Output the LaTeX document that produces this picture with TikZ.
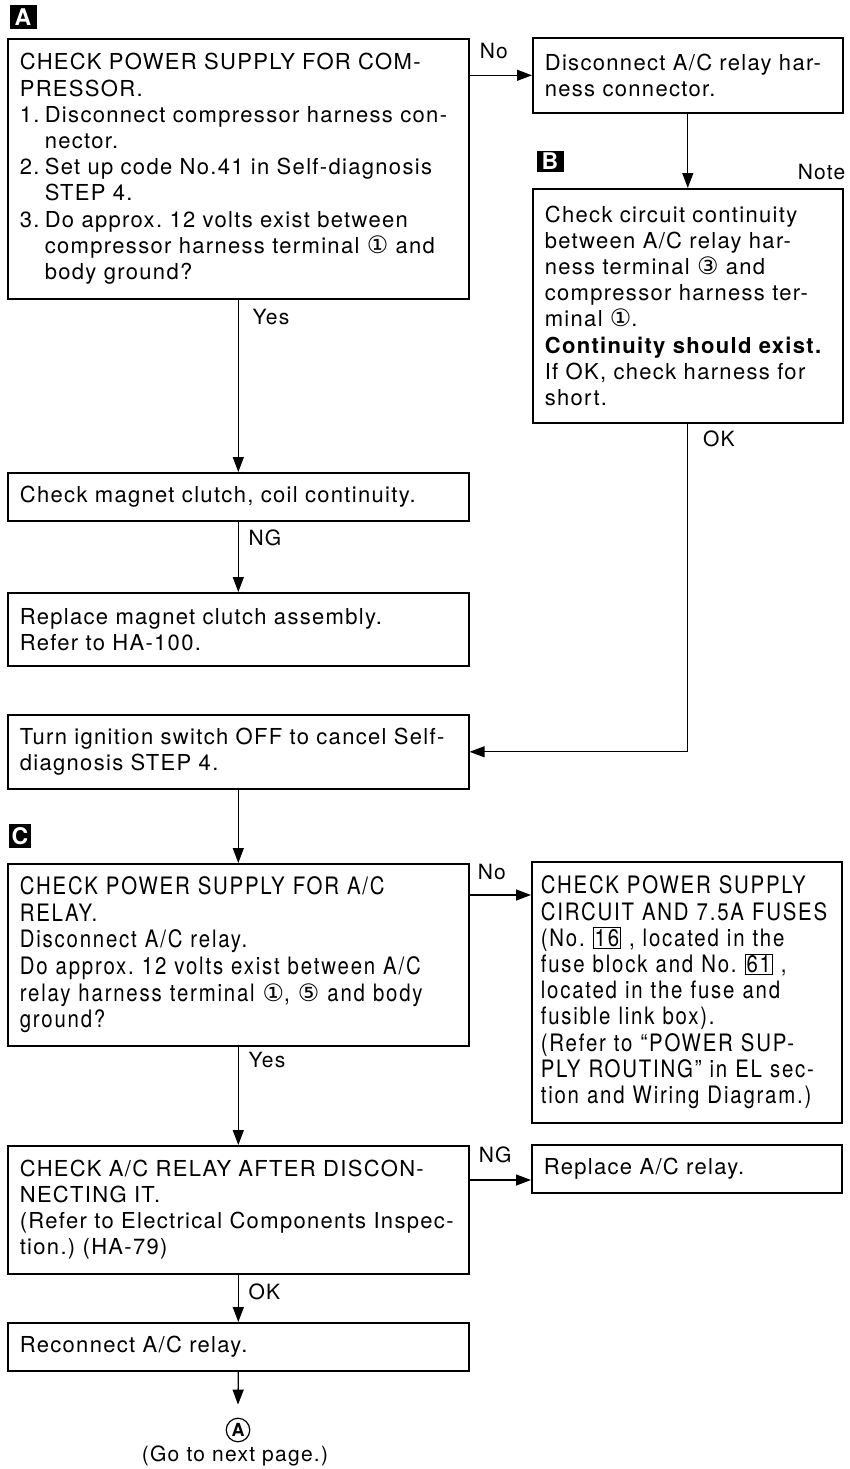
\documentclass[tikz,border=0pt]{standalone}
\usepackage{fontspec}
\usepackage{tikz}
\usetikzlibrary{calc,arrows.meta}
\setmainfont{TeX Gyre Heros}[LetterSpace=6]
\newfontfamily\narrowfont{TeX Gyre Heros}[FakeStretch=0.85,LetterSpace=7.5]
\newfontfamily\symfont{DejaVu Sans}
\newcommand{\mainsz}{\frenchspacing\fontsize{22}{26.2}\selectfont}
\newcommand{\circnum}[1]{{\symfont\fontsize{24}{24}\selectfont #1}}
\newcommand{\fusebox}[1]{{\setlength{\fboxsep}{1pt}\setlength{\fboxrule}{0.9pt}\fbox{#1}}}
\newcommand{\hang}[1]{\makebox[25pt][l]{#1}}

\begin{document}
\begin{tikzpicture}[x=1pt,y=-1pt,>={Triangle[length=15pt,width=11pt]},
  stepbox/.style={draw,line width=1.6pt,anchor=north west,inner xsep=12pt,inner ysep=3pt,
    align=left,text width=#1,font=\mainsz},
  flow/.style={->,line width=1.3pt},
  lbl/.style={inner sep=0pt,font=\fontsize{21}{24}\selectfont},
  tag/.style={fill=black,text=white,inner sep=0pt,minimum width=27pt,minimum height=24pt,
    font=\bfseries\fontsize{23}{23}\selectfont}]
  \useasboundingbox (0,0) rectangle (849,1469);
  % section tags
  \node[tag] (tagA) at (23,17) {A};
  \node[tag,minimum height=21pt] (tagB) at (550,161) {B};
  \node[tag,minimum width=22pt] (tagC) at (20,836) {C};
  % left column
  \node[stepbox=437pt,minimum height=260pt] (chkcomp) at (7,38)
    {CHECK POWER SUPPLY FOR COM-\\
     PRESSOR.\\
     \hang{1.}Disconnect compressor harness con-\\
     \hang{}nector.\\
     \hang{2.}Set up code No.41 in Self-diagnosis\\
     \hang{}STEP 4.\\
     \hang{3.}Do approx. 12 volts exist between\\
     \hang{}compressor harness terminal \circnum{①} and\\
     \hang{}body ground?};
  \node[stepbox=437pt,minimum height=48pt] (clutch) at (7,472)
    {Check magnet clutch, coil continuity.};
  \node[stepbox=437pt,minimum height=73pt] (magrep) at (7,592)
    {Replace magnet clutch assembly.\\Refer to HA-100.};
  \node[stepbox=437pt,minimum height=74pt] (ignoff) at (7,714)
    {Turn ignition switch OFF to cancel Self-\\diagnosis STEP 4.};
  \node[stepbox=437pt,minimum height=182pt,font=\narrowfont\frenchspacing\fontsize{24}{26.6}\selectfont] (chkrly) at (7,863)
    {CHECK POWER SUPPLY FOR A/C\\
     RELAY.\\
     Disconnect A/C relay.\\
     Do approx. 12 volts exist between A/C\\
     relay harness terminal \circnum{①}, \circnum{⑤} and body\\
     ground?};
  \node[stepbox=437pt,minimum height=128pt] (rlytest) at (7,1145)
    {CHECK A/C RELAY AFTER DISCON-\\
     NECTING IT.\\
     (Refer to Electrical Components Inspec-\\
     tion.) (HA-79)};
  \node[stepbox=437pt,minimum height=48pt] (recon) at (7,1322)
    {Reconnect A/C relay.};
  % right column
  \node[stepbox=286pt,minimum height=75pt] (disc) at (532,37)
    {Disconnect A/C relay har-\\ness connector.};
  \node[stepbox=286pt,minimum height=234pt] (contin) at (532,188)
    {Check circuit continuity\\
     between A/C relay har-\\
     ness terminal \circnum{③} and\\
     compressor harness ter-\\
     minal \circnum{①}.\\
     \textbf{Continuity should exist.}\\
     If OK, check harness for\\
     short.};
  \node[stepbox=292pt,inner xsep=9pt,minimum height=261pt,font=\narrowfont\frenchspacing\fontsize{24}{26.2}\selectfont] (fuses) at (531,861)
    {CHECK POWER SUPPLY\\
     CIRCUIT AND 7.5A FUSES\\
     (No. \fusebox{16} , located in the\\
     fuse block and No. \fusebox{61} ,\\
     located in the fuse and\\
     fusible link box).\\
     (Refer to “POWER SUP-\\
     PLY ROUTING” in EL sec-\\
     tion and Wiring Diagram.)};
  \node[stepbox=286pt,minimum height=48pt] (rlyrep) at (531,1144)
    {Replace A/C relay.};
  \node[lbl,anchor=base east] (note) at ($(contin.north east)+(2,-9)$) {Note};
  % end marker
  \node[circle,draw,line width=1.2pt,inner sep=1.8pt,font=\bfseries\fontsize{18}{18}\selectfont] (nextpg) at (238,1430) {A};
  \node[lbl] (gonext) at (235,1456) {(Go to next page.)};
  \coordinate (endA) at ($(nextpg.north)+(0,-13)$);
  % connectors
  \draw[flow] (chkcomp.east |- disc.west) coordinate (noA) -- (disc.west);
  \node[lbl,anchor=base west] at ($(noA)+(10,-17)$) {No};
  \draw[flow] (disc.south) -- (contin.north);
  \draw[flow] (contin.south) |- (ignoff.east);
  \node[lbl,anchor=base west] at ($(contin.south)+(15,23)$) {OK};
  \draw[flow] (chkcomp.south) -- (clutch.north);
  \node[lbl,anchor=base west] at ($(chkcomp.south)+(14,25)$) {Yes};
  \draw[flow] (clutch.south) -- (magrep.north);
  \node[lbl,anchor=base west] at ($(clutch.south)+(10,24)$) {NG};
  \draw[flow] (ignoff.south) -- (chkrly.north);
  \coordinate (noC) at ($(chkrly.north east)+(0,32)$);
  \draw[flow] (noC) -- (noC -| fuses.west);
  \node[lbl,anchor=base west] at ($(noC)+(8,-16)$) {No};
  \draw[flow] (chkrly.south) -- (rlytest.north);
  \node[lbl,anchor=base west] at ($(chkrly.south)+(10,21)$) {Yes};
  \coordinate (ngC) at ($(rlytest.north east)+(0,35)$);
  \draw[flow] (ngC) -- (ngC -| rlyrep.west);
  \node[lbl,anchor=base west] at ($(ngC)+(9,-18)$) {NG};
  \draw[flow] (rlytest.south) -- (recon.north);
  \node[lbl,anchor=base west] at ($(rlytest.south)+(10,25)$) {OK};
  \draw[flow] (recon.south) -- (endA);
\end{tikzpicture}
\end{document}
